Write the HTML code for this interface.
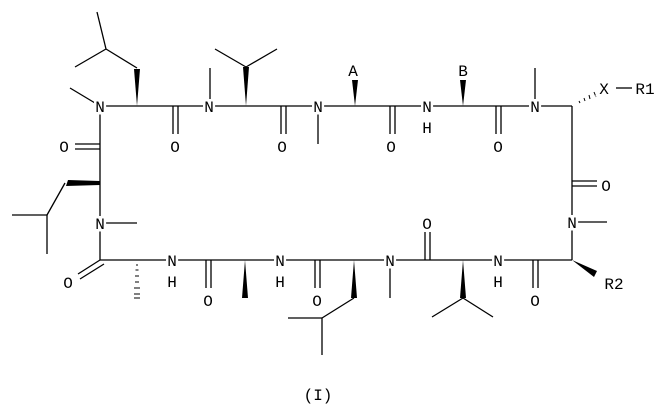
<!DOCTYPE html>
<html><head><style>body{margin:0;background:#fff}svg{display:block}</style></head><body>
<svg width="663" height="407" viewBox="0 0 663 407" xmlns="http://www.w3.org/2000/svg">
<g stroke="#000" stroke-width="1.3" fill="none">
<!-- top chain -->
<line x1="100" y1="106" x2="572" y2="106"/>
<line x1="100" y1="106" x2="70" y2="88"/>
<line x1="137" y1="68" x2="106" y2="49"/><line x1="106" y1="49" x2="97" y2="12"/><line x1="106" y1="49" x2="75" y2="67"/>
<line x1="173" y1="106" x2="173" y2="134"/><line x1="178" y1="106" x2="178" y2="134"/>
<line x1="210" y1="106" x2="210" y2="68"/>
<line x1="246" y1="67" x2="215" y2="49"/><line x1="246" y1="67" x2="277" y2="49"/>
<line x1="281" y1="106" x2="281" y2="134"/><line x1="286" y1="106" x2="286" y2="134"/>
<line x1="318" y1="106" x2="318" y2="144"/>
<line x1="390" y1="106" x2="390" y2="134"/><line x1="395" y1="106" x2="395" y2="134"/>
<line x1="496" y1="106" x2="496" y2="134"/><line x1="501" y1="106" x2="501" y2="134"/>
<line x1="535" y1="106" x2="535" y2="68"/>
<line x1="616" y1="88" x2="632" y2="88"/>
<!-- right column -->
<line x1="572" y1="106" x2="572" y2="260"/>
<line x1="572" y1="181" x2="597" y2="181"/><line x1="572" y1="186" x2="597" y2="186"/>
<line x1="572" y1="222" x2="607" y2="222"/>
<!-- bottom chain -->
<line x1="100" y1="260" x2="572" y2="260"/>
<line x1="533" y1="260" x2="533" y2="288"/><line x1="538" y1="260" x2="538" y2="288"/>
<line x1="463" y1="298" x2="432" y2="317"/><line x1="463" y1="298" x2="493" y2="317"/>
<line x1="425" y1="260" x2="425" y2="232"/><line x1="430" y1="260" x2="430" y2="232"/>
<line x1="390" y1="260" x2="390" y2="298"/>
<line x1="354" y1="298" x2="322" y2="318"/><line x1="322" y1="318" x2="288" y2="318"/><line x1="322" y1="318" x2="322" y2="355"/>
<line x1="315" y1="260" x2="315" y2="288"/><line x1="320" y1="260" x2="320" y2="288"/>
<line x1="206" y1="260" x2="206" y2="288"/><line x1="211" y1="260" x2="211" y2="288"/>
<!-- left column -->
<line x1="100" y1="106" x2="100" y2="260"/>
<line x1="75" y1="144" x2="100" y2="144"/><line x1="75" y1="149" x2="100" y2="149"/>
<line x1="100" y1="223" x2="137" y2="223"/>
<line x1="100" y1="260" x2="78" y2="274"/><line x1="104" y1="264" x2="80" y2="279"/>
<line x1="65" y1="183" x2="47" y2="215"/><line x1="47" y1="215" x2="12" y2="215"/><line x1="47" y1="215" x2="47" y2="254"/>
<!-- hashed -->
<g stroke-width="1">
<line x1="574" y1="104" x2="574" y2="104"/>
<line x1="579" y1="101" x2="580" y2="103"/><line x1="584" y1="98" x2="585" y2="101"/><line x1="589" y1="95" x2="590" y2="99"/><line x1="594" y1="92" x2="596" y2="97"/>
<line x1="136" y1="265" x2="138" y2="265"/><line x1="135.5" y1="270" x2="138.5" y2="270"/><line x1="135" y1="276" x2="139" y2="276"/><line x1="135" y1="282" x2="139" y2="282"/><line x1="134" y1="288" x2="140" y2="288"/><line x1="134" y1="294" x2="140" y2="294"/><line x1="134" y1="298" x2="140" y2="298"/>
</g>
</g>
<g fill="#000">
<polygon points="137,106 134,69 140,69"/>
<polygon points="246,106 243,67 249,67"/>
<polygon points="355,106 352,80 358,80"/>
<polygon points="463,106 460,80 466,80"/>
<polygon points="572,260 597,271 594,277"/>
<polygon points="463,260 460,298 466,298"/>
<polygon points="354,260 351,298 357,298"/>
<polygon points="245,260 242,298 248,298"/>
<polygon points="100,181 100,185 66,186 68,180"/>
</g>
<g font-family="Liberation Mono, monospace" font-size="16" text-anchor="middle" fill="#000" stroke="#fff" stroke-width="5" paint-order="stroke">
<text x="100" y="112">N</text>
<text x="209" y="112">N</text>
<text x="318" y="112">N</text>
<text x="427" y="112">N</text><text x="427" y="133">H</text>
<text x="535" y="112">N</text>
<text x="175" y="152">O</text><text x="282" y="152">O</text><text x="391" y="152">O</text><text x="498" y="152">O</text>
<text x="353" y="76">A</text><text x="463" y="76">B</text>
<text x="604" y="94">X</text><text x="645" y="94">R1</text>
<text x="64" y="152">O</text>
<text x="606" y="191">O</text>
<text x="572" y="228">N</text>
<text x="100" y="229">N</text>
<text x="614" y="289">R2</text>
<text x="172" y="266">N</text><text x="172" y="287">H</text>
<text x="280" y="266">N</text><text x="280" y="287">H</text>
<text x="390" y="266">N</text>
<text x="498" y="266">N</text><text x="498" y="287">H</text>
<text x="68" y="288">O</text>
<text x="208" y="306">O</text><text x="317" y="306">O</text><text x="535" y="306">O</text>
<text x="427" y="229">O</text>
<text x="318" y="400">(I)</text>
</g>
</svg>
</body></html>
